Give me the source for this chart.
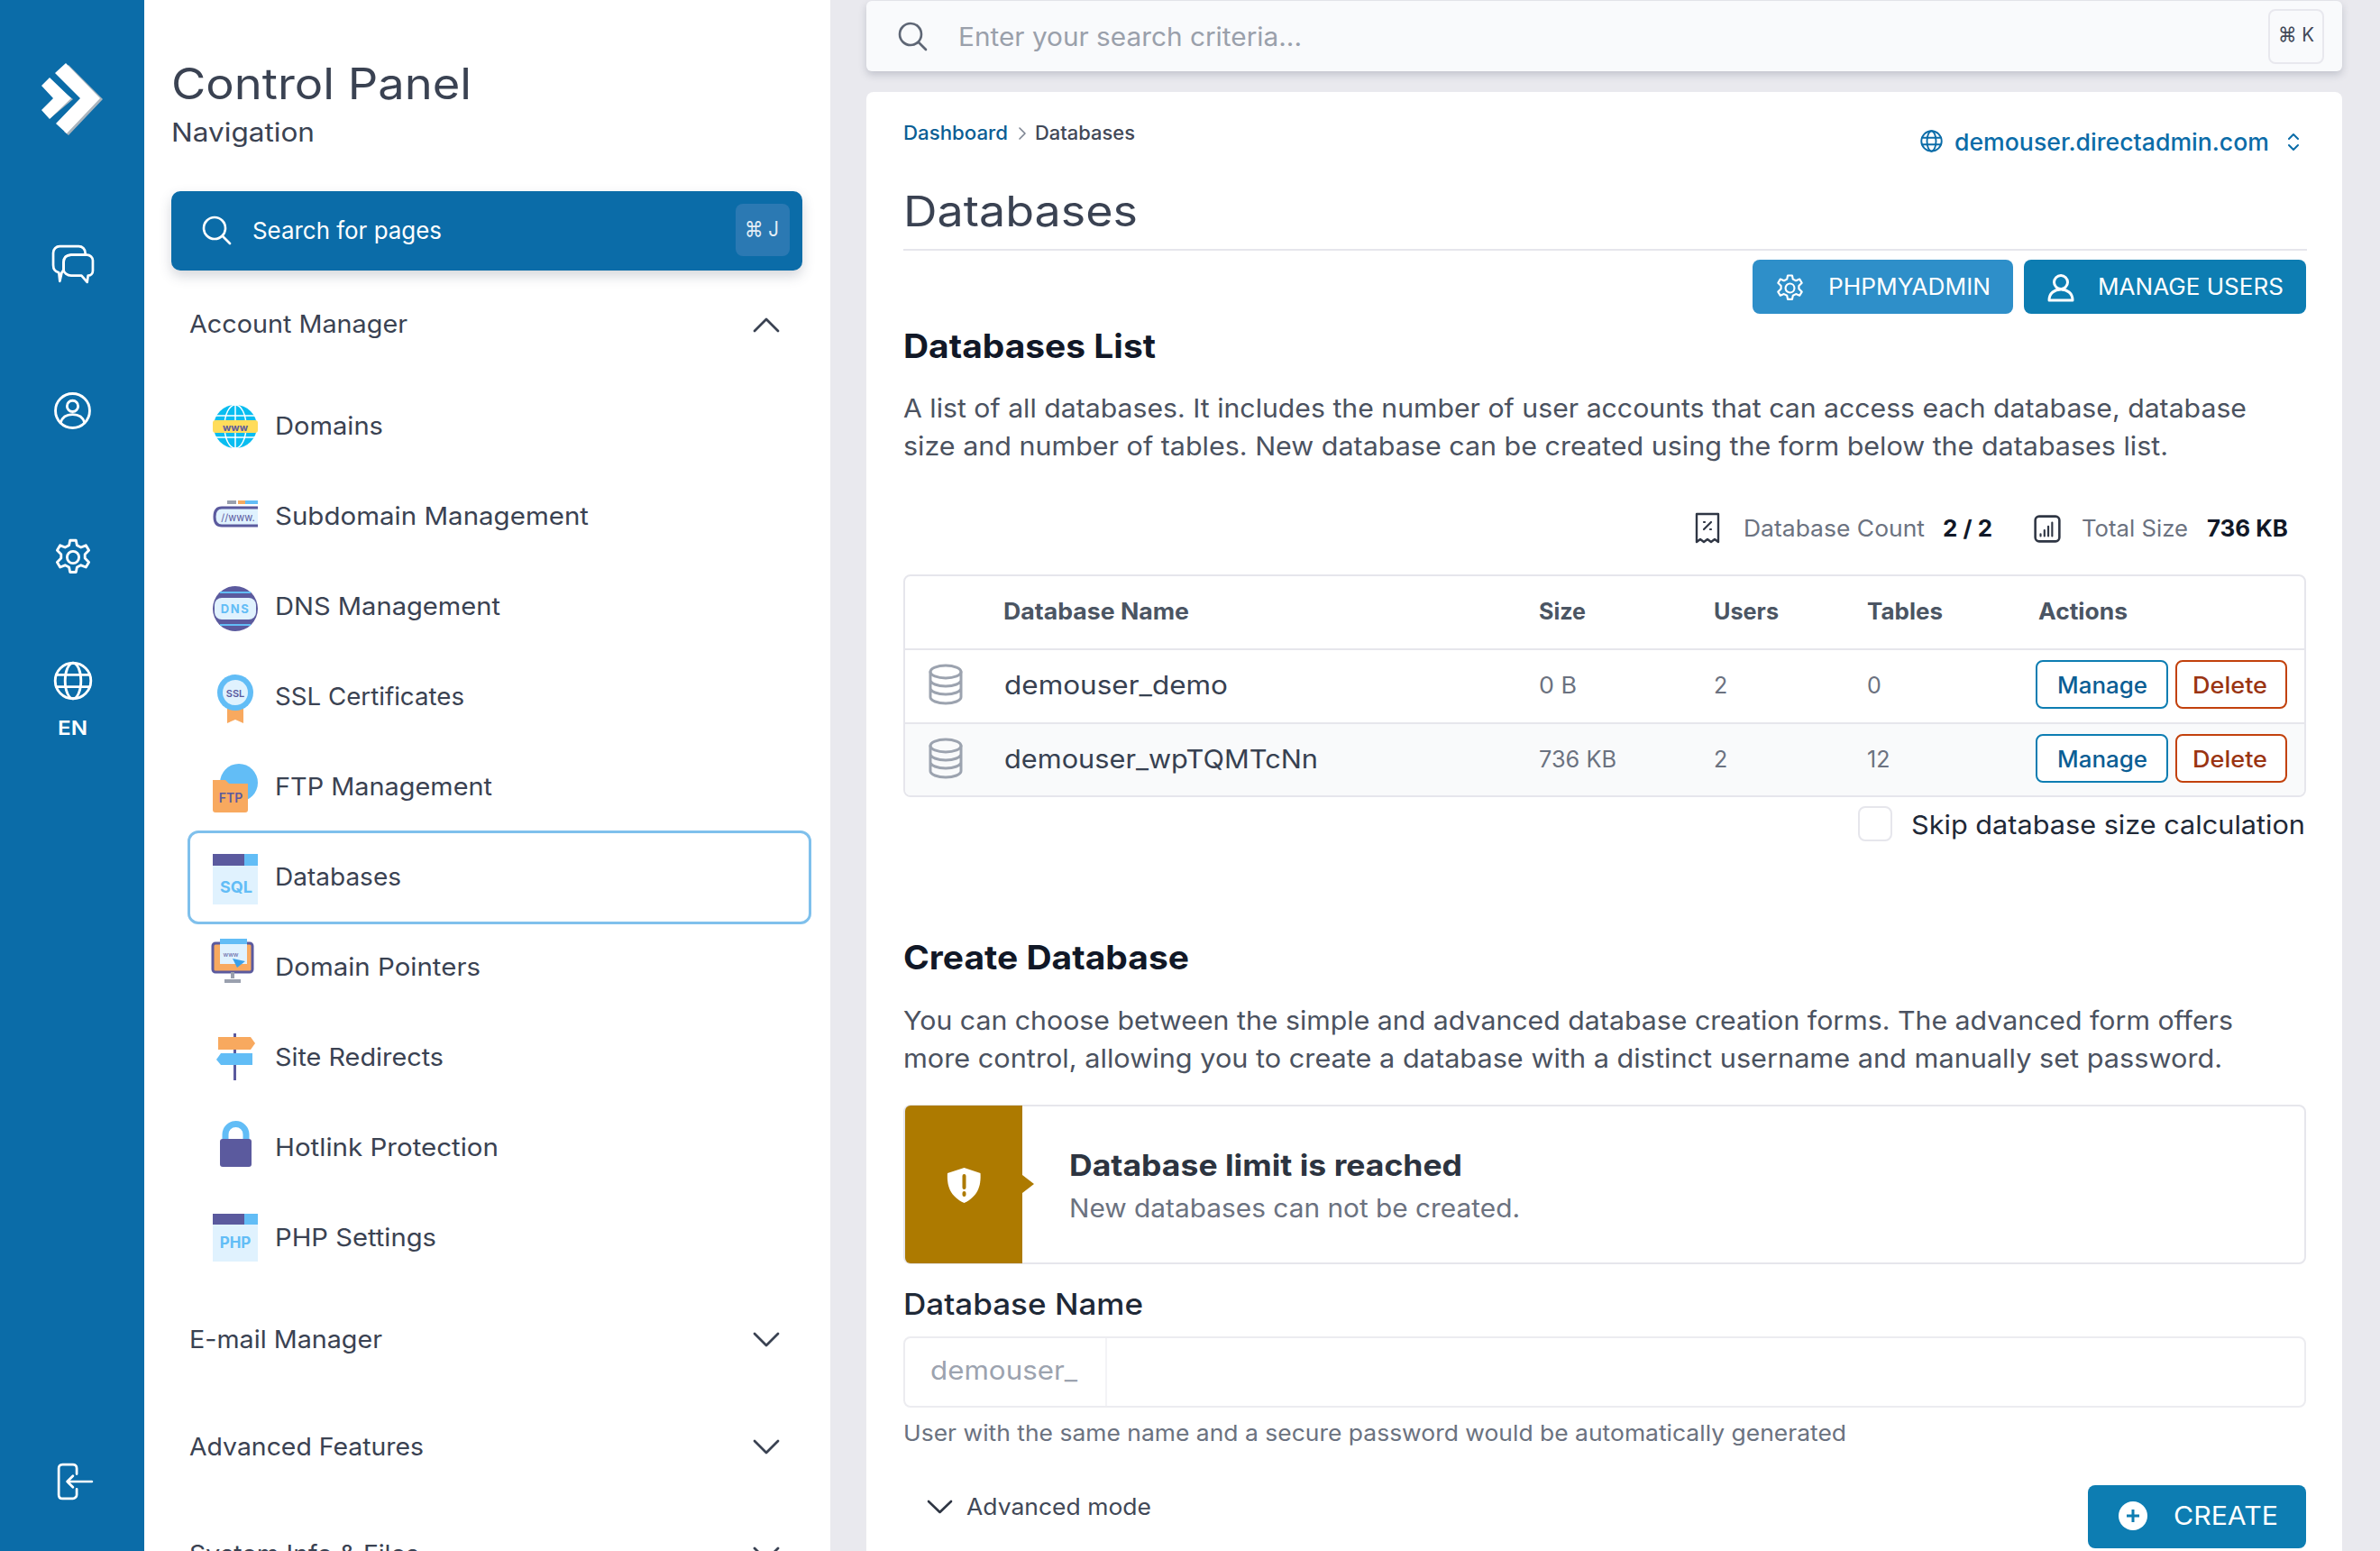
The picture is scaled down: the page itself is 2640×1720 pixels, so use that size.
<!DOCTYPE html>
<html>
<head>
<meta charset="utf-8">
<title>Databases</title>
<script src="https://cdn.jsdelivr.net/npm/chart.js@4"></script>
<style>
  html, body { margin: 0; padding: 0; background: #e9e9ee; }
  #page { position: relative; width: 2640px; height: 1720px; overflow: hidden; background: #e9e9ee; font-family: Inter, "Noto Sans", sans-serif; }
  .box { position: absolute; box-sizing: border-box; }
  .t { position: absolute; white-space: pre; line-height: 1; transform: translateY(-50%); transform-origin: left center; }
  svg { position: absolute; overflow: visible; }
</style>
</head>
<body>
<div id="page"></div>
<script>
// values
const navItems = ['Domains', 'Subdomain Management', 'DNS Management', 'SSL Certificates', 'FTP Management', 'Databases', 'Domain Pointers', 'Site Redirects', 'Hotlink Protection', 'PHP Settings'];
const navWidths = [120, 348, 250, 210, 241, 140, 228, 187, 248, 179];
const navGroups = ['E-mail Manager', 'Advanced Features', 'System Info & Files'];
const tableHeaders = ['Database Name', 'Size', 'Users', 'Tables', 'Actions'];
const dbNames = ['demouser_demo', 'demouser_wpTQMTcNn'];
const dbSizes = ['0 B', '736 KB'];
const dbUsers = [2, 2];
const dbTables = [0, 12];

const page = document.getElementById('page');
const BLUE = '#0b6ca8', DARK = '#3a4252', BODY = '#4b5260', GREY = '#6b7280', LINE = '#e6e6ec';

function box(x, y, w, h, css) {
  const d = document.createElement('div');
  d.className = 'box';
  d.style.cssText = `left:${x}px;top:${y}px;width:${w}px;height:${h}px;${css || ''}`;
  page.appendChild(d);
  return d;
}

// text placed by left edge and vertical centre, stretched to the measured width
// (the original face is wider than anything installed)
function text(str, x, cy, size, color, width, weight) {
  const s = document.createElement('span');
  s.className = 't';
  s.textContent = str;
  s.style.cssText = `left:${x}px;top:${cy}px;font-size:${size}px;color:${color};font-weight:${weight || 400};`;
  page.appendChild(s);
  if (width) {
    const k = width / s.getBoundingClientRect().width;
    s.style.transform = `translateY(-50%) scaleX(${k.toFixed(4)})`;
  }
  return s;
}

function svg(x, y, w, h, vb, inner) {
  page.insertAdjacentHTML('beforeend', `<svg style="left:${x}px;top:${y}px" width="${w}" height="${h}" viewBox="${vb}">${inner}</svg>`);
}
const stroke = (c, w) => `fill="none" stroke="${c}" stroke-width="${w}" stroke-linecap="round" stroke-linejoin="round"`;

const searchIcon = c => `<circle cx="14" cy="14" r="12" ${stroke(c, 2.6)}/><path d="M23 23l8 8" ${stroke(c, 2.6)}/>`;
const gearPath = c => `<circle cx="20" cy="20" r="6" ${stroke(c, 2.6)}/><path d="M17 3h6l1 5 4 2 5-2 3 5-4 4v4l4 4-3 5-5-2-4 2-1 5h-6l-1-5-4-2-5 2-3-5 4-4v-4l-4-4 3-5 5 2 4-2z" ${stroke(c, 2.6)}/>`;
const globePath = (c, w) => `<circle cx="20" cy="20" r="18" ${stroke(c, w)}/><ellipse cx="20" cy="20" rx="8" ry="18" ${stroke(c, w)}/><path d="M3 14h34M3 26h34" ${stroke(c, w)}/>`;
const chevDown = (x, cy, c) => svg(x, cy - 8, 28, 16, '0 0 28 16', `<path d="M1 1l13 13L27 1" ${stroke(c, 2.8)}/>`);
const dbIcon = (x, y) => svg(x, y, 38, 44, '0 0 38 44', `<ellipse cx="19" cy="8" rx="17" ry="7" ${stroke('#9ca3af', 3)}/><path d="M2 8v28c0 4 8 7 17 7s17-3 17-7V8M2 17c0 4 8 7 17 7s17-3 17-7M2 26c0 4 8 7 17 7s17-3 17-7" ${stroke('#9ca3af', 3)}/>`);

// --- left rail ---
box(0, 0, 160, 1720, `background:${BLUE}`);
svg(0, 0, 160, 160, '0 0 160 160', `<path d="M76 72l38 38-38 40-5-4 33-36-32-34zM56 91l25 19-25 21-3-4 20-17-20-16z" fill="#a9b4bd"/><path d="M73 70l38 39-37 39-12-11 27-28-28-28zM55 86l24 23-24 23-9-10 13-13-13-14z" fill="#fff"/>`);
svg(58, 272, 46, 42, '0 0 44 40', `<path d="M8 1h20c4 0 7 3 7 7v2H20c-5 0-8 3-8 8v8l-2 3-2 9-1-9c-4-1-6-4-6-8V8c0-4 3-7 7-7z" ${stroke('#fff', 2.6)}/><path d="M20 10h17c3 0 6 3 6 6v11c0 3-2 5-5 5l-1 7-6-7H20c-4 0-8-3-8-6V18c0-5 3-8 8-8z" ${stroke('#fff', 2.6)}/>`);
svg(60, 435, 41, 41, '0 0 40 40', `<circle cx="20" cy="20" r="18.5" ${stroke('#fff', 2.8)}/><circle cx="20" cy="15" r="6" ${stroke('#fff', 2.8)}/><path d="M7 33c2-7 7-9 13-9s11 2 13 9" ${stroke('#fff', 2.8)}/>`);
svg(59, 596, 44, 44, '0 0 40 40', gearPath('#fff'));
svg(59, 733, 44, 44, '0 0 40 40', globePath('#fff', 2.6));
text('EN', 64, 807, 22, '#fff', 33, 600);
svg(62, 1622, 42, 42, '0 0 40 40', `<path d="M22 12V6c0-3-2-4-4-4H7C4 2 3 4 3 6v28c0 3 2 4 4 4h11c2 0 4-2 4-4v-6" ${stroke('#fff', 2.6)}/><path d="M12 20h26M12 20l6-6M12 20l6 6" ${stroke('#fff', 2.6)}/>`);

// --- navigation panel ---
box(160, 0, 761, 1720, 'background:#fff');
text('Control Panel', 190, 93, 48, DARK, 333);
text('Navigation', 190, 147, 28, DARK, 159);
box(190, 212, 700, 88, `background:${BLUE};border-radius:10px;box-shadow:0 6px 14px rgba(60,70,90,.22)`);
svg(224, 239, 33, 33, '0 0 33 33', searchIcon('#fff'));
text('Search for pages', 280, 256, 26, '#fff', 210);
box(816, 226, 60, 58, 'background:#2b79b3;border-radius:8px');
text('⌘ J', 826, 254, 23, '#e4eef6', 38);
text('Account Manager', 210, 359, 27, DARK, 242);
svg(836, 352, 28, 16, '0 0 28 16', `<path d="M1 15L14 2l13 13" ${stroke(DARK, 2.8)}/>`);

box(208, 921, 692, 104, 'border:3px solid #7fc0ec;border-radius:12px;background:#fff');
navItems.forEach((name, i) => {
  text(name, 305, 472.5 + i * 100, 27.5, DARK, navWidths[i]);
});

// nav icons, same 50px slot
const Y = i => 446.5 + i * 100;
svg(236, Y(0), 50, 52, '0 0 50 52', `<circle cx="25" cy="26" r="24" fill="#09bdf0"/><path d="M25 2v48M3 14h44M3 38h44" stroke="#fff" stroke-width="1.5"/><ellipse cx="25" cy="26" rx="12" ry="24" fill="none" stroke="#fff" stroke-width="1.5"/><rect x="0" y="19" width="50" height="14" rx="3" fill="#ffdc5b"/><text x="25" y="30.5" font-size="11" font-weight="700" text-anchor="middle" fill="#5b5a9e">www</text>`);
svg(236, Y(1) + 8, 50, 30, '0 0 50 30', `<rect x="16" y="0" width="10" height="4" fill="#9aa0ae"/><rect x="28" y="0" width="22" height="4" fill="#62bdf6"/><rect x="28" y="0" width="8" height="4" fill="#f5a95f"/><path d="M50 8H10C4 8 2 12 2 18s2 10 8 10h40" fill="#e0f2fe" stroke="#5b5a9e" stroke-width="3"/><text x="28" y="23" font-size="11" text-anchor="middle" fill="#5b5a9e">//www.</text>`);
svg(236, Y(2) + 1, 50, 54, '0 0 50 54', `<circle cx="25" cy="27" r="25" fill="#5b5a9e"/><rect x="2" y="15" width="46" height="24" rx="8" fill="#e0f2fe"/><text x="25" y="32" font-size="13" font-weight="700" text-anchor="middle" letter-spacing="1.5" fill="#62bdf6">DNS</text><path d="M8 9h34M8 45h34" stroke="#62bdf6" stroke-width="2"/>`);
svg(241, Y(3) + 1, 40, 54, '0 0 40 54', `<path d="M11 36v18l9-4 9 4V36z" fill="#f8a95f"/><circle cx="20" cy="20" r="20" fill="#62bdf6"/><circle cx="20" cy="20" r="14" fill="#e0f2fe"/><text x="20" y="25" font-size="11" font-weight="600" text-anchor="middle" fill="#5b5a9e">SSL</text>`);
svg(236, Y(4) - 1, 50, 56, '0 0 50 56', `<circle cx="29" cy="22" r="21" fill="#62bdf6"/><path d="M0 19h14l4 4h21v29c0 2-1 3-3 3H3c-2 0-3-1-3-3z" fill="#f8a95f"/><text x="20" y="44" font-size="14" font-weight="600" text-anchor="middle" fill="#5b5a9e">FTP</text>`);
svg(236, Y(5), 50, 56, '0 0 50 56', `<rect width="50" height="56" fill="#e0f2fe"/><rect width="35" height="13" fill="#5b5a9e"/><rect x="35" width="15" height="13" fill="#62bdf6"/><text x="26" y="43" font-size="18" font-weight="700" text-anchor="middle" fill="#62bdf6">SQL</text>`);
svg(236, Y(6) - 6, 50, 48, '0 0 50 48', `<rect x="0" y="5" width="44" height="32" rx="3" fill="#f8a95f" stroke="#5b5a9e" stroke-width="3"/><rect x="8" y="0" width="30" height="28" fill="#e0f2fe"/><rect x="8" y="0" width="30" height="6" fill="#62bdf6"/><path d="M22 37v7M13 47h18" stroke="#9aa0ae" stroke-width="4"/><text x="20" y="20" font-size="7" text-anchor="middle" fill="#5b5a9e">www</text><path d="M22 22l14 3-9 7z" fill="#3aa0e8"/>`);
svg(238, Y(7) - 1, 46, 52, '0 0 46 52', `<rect x="21" y="0" width="3" height="52" fill="#5b5a9e"/><path d="M4 4h36l5 7-5 7H4z" fill="#f8a95f"/><path d="M42 22H7l-5 7 5 6h35z" fill="#62bdf6"/>`);
svg(244, Y(8) - 5, 35, 52, '0 0 35 52', `<path d="M6 24V16a11.500 11.500 0 0 1 23 0v8" fill="none" stroke="#62bdf6" stroke-width="7"/><rect y="21" width="35" height="31" rx="3" fill="#5b5a9e"/>`);
svg(236, Y(9) - 1, 50, 53, '0 0 50 53', `<rect width="50" height="53" fill="#e0f2fe"/><rect width="35" height="12" fill="#5b5a9e"/><rect x="35" width="15" height="12" fill="#62bdf6"/><text x="25" y="38" font-size="17" font-weight="700" text-anchor="middle" fill="#62bdf6">PHP</text>`);

[214, 260, 255].forEach((w, i) => {
  const cy = [1485.5, 1605, 1724][i];
  text(navGroups[i], 210, cy, 27.5, DARK, w);
  chevDown(836, cy, DARK);
});

// --- top search card ---
box(961, 1, 1637, 78, 'background:#f9fafc;border-radius:6px;box-shadow:0 4px 8px rgba(60,70,90,.22)');
svg(996, 24, 33, 33, '0 0 33 33', searchIcon('#5e6675'));
text('Enter your search criteria...', 1063, 41, 28, '#9aa0ab', 381);
box(2516, 10, 62, 61, 'border:2px solid #e8e8ee;border-radius:8px');
text('⌘ K', 2527, 38, 22, '#414857', 40);

// --- main card ---
box(961, 102, 1637, 1640, 'background:#fff;border-radius:8px');
text('Dashboard', 1002, 147, 21, '#0b5e94', 116, 500);
svg(1130, 141, 9, 14, '0 0 9 14', `<path d="M1 1l6 6-6 6" ${stroke('#7b8391', 1.6)}/>`);
text('Databases', 1148, 147, 21, '#414857', 111, 500);
svg(2130, 144, 25, 25, '0 0 40 40', globePath(BLUE, 3));
text('demouser.directadmin.com', 2168, 158, 26, BLUE, 349, 500);
svg(2537, 148, 14, 19, '0 0 14 19', `<path d="M2 6l5-5 5 5M2 13l5 5 5-5" ${stroke(BLUE, 2)}/>`);

text('Databases', 1002, 233, 47, DARK, 260);
box(1002, 276, 1557, 2, `background:${LINE}`);

box(1944, 288, 289, 60, 'background:#2e8fc9;border-radius:8px');
svg(1969, 303, 33, 33, '0 0 40 40', gearPath('#fff'));
text('PHPMYADMIN', 2028, 318, 25, '#fff', 180);
box(2245, 288, 313, 60, 'background:#0d7db2;border-radius:8px');
svg(2271, 304, 30, 31, '0 0 30 31', `<circle cx="15" cy="9" r="7.500" ${stroke('#fff', 3)}/><path d="M2 29c0-8 6-12 13-12s13 4 13 12z" ${stroke('#fff', 3)}/>`);
text('MANAGE USERS', 2327, 318, 25, '#fff', 206);

text('Databases List', 1002, 383, 37, '#111827', 280, 700);
text('A list of all databases. It includes the number of user accounts that can access each database, database', 1002, 452, 29, BODY, 1490);
text('size and number of tables. New database can be created using the form below the databases list.', 1002, 494, 29, BODY, 1403);

// stats row
svg(1880, 568, 28, 35, '0 0 28 35', `<path d="M2 2h24v31l-4-3-4 3-4-3-4 3-4-3-4 3z" ${stroke('#2f3644', 2.4)}/><path d="M10 19l8-8M10 11h1M17 19h1" ${stroke('#2f3644', 2.2)}/>`);
text('Database Count', 1934, 586, 25, GREY, 201);
text('2 / 2', 2155, 586, 25, '#111827', 55, 700);
svg(2256, 571, 30, 31, '0 0 28 29', `<rect x="1.500" y="1.500" width="25" height="26" rx="4" ${stroke('#2f3644', 2.4)}/><path d="M7 22v-2M11 22v-6M15 22v-10M19 22V8" ${stroke('#2f3644', 2)}/>`);
text('Total Size', 2309, 586, 25, GREY, 118);
text('736 KB', 2448, 586, 25, '#111827', 90, 700);

// database table
box(1002, 637, 1556, 247, `border:2px solid ${LINE};border-radius:8px`);
const colX = [1113, 1707, 1901, 2071, 2261];
const headWidths = [206, 52, 72, 84, 99];
tableHeaders.forEach((h, i) => text(h, colX[i], 678, 25, '#4b5563', headWidths[i], 700));
const rowY = [759, 841];
box(1004, 719, 1552, 2, `background:${LINE}`);
box(1004, 801, 1552, 2, `background:${LINE}`);
box(1004, 803, 1552, 79, 'background:#f9fafb;border-radius:0 0 6px 6px');
dbNames.forEach((name, i) => {
  const cy = rowY[i];
  dbIcon(1030, cy - 22);
  text(name, colX[0] + 1, cy, 29, '#374151', i === 0 ? 248 : 348);
  text(dbSizes[i], colX[1], cy + 1, 25, GREY, i === 0 ? 42 : 86);
  text(String(dbUsers[i]), colX[2], cy + 1, 25, GREY);
  text(String(dbTables[i]), colX[3], cy + 1, 25, GREY);
  box(2258, cy - 27, 147, 54, 'border:2.5px solid #0d7db2;border-radius:8px;background:#fff');
  text('Manage', 2282, cy + 1, 25, '#0b5e94', 100, 500);
  box(2413, cy - 27, 124, 54, 'border:2.5px solid #c2410c;border-radius:8px;background:#fff');
  text('Delete', 2432, cy + 1, 25, '#9a3412', 83, 500);
});
box(2061, 894, 38, 39, `border:2px solid ${LINE};border-radius:8px`);
text('Skip database size calculation', 2120, 914, 29, '#1f2937', 437);

// create form
text('Create Database', 1002, 1061, 37, '#111827', 317, 700);
text('You can choose between the simple and advanced database creation forms. The advanced form offers', 1002, 1131, 29, BODY, 1475);
text('more control, allowing you to create a database with a distinct username and manually set password.', 1002, 1173, 29, BODY, 1463);

box(1002, 1225, 1556, 177, `border:2px solid ${LINE};border-radius:8px`);
box(1004, 1226, 130, 175, 'background:#ad7a00;border-radius:6px 0 0 6px');
svg(1134, 1303, 13, 20, '0 0 13 20', '<path d="M0 0l13 10L0 20z" fill="#ad7a00"/>');
svg(1049, 1294, 41, 41, '0 0 41 41', `<path d="M20.500 1l18 6c1 14-3 26-18 33C5 33 1 21 2 7z" fill="#fff"/><path d="M20.500 10v13M20.500 29v2" stroke="#ad7a00" stroke-width="4" stroke-linecap="round"/>`);
text('Database limit is reached', 1186, 1292, 33, '#2d3440', 436, 700);
text('New databases can not be created.', 1186, 1340, 28, GREY, 500);

text('Database Name', 1002, 1446, 33, '#1f2937', 266, 500);
box(1002, 1482, 1556, 79, 'border:2px solid #ececf0;border-radius:8px');
box(1226, 1484, 2, 75, 'background:#f3f3f6');
text('demouser_', 1032, 1519, 29, '#9ca3af', 163);
text('User with the same name and a secure password would be automatically generated', 1002, 1589, 24.5, GREY, 1046);

svg(1029, 1664, 27, 14, '0 0 27 14', `<path d="M1 1l12.500 12L26 1" ${stroke('#2f3644', 2.6)}/>`);
text('Advanced mode', 1072, 1671, 25, '#414857', 205);
box(2316, 1647, 242, 70, 'background:#0d7db2;border-radius:8px');
svg(2350, 1665, 32, 32, '0 0 32 32', `<circle cx="16" cy="16" r="16" fill="#fff"/><path d="M16 9v14M9 16h14" stroke="#0d7db2" stroke-width="3"/>`);
text('CREATE', 2411, 1681, 28, '#fff', 116);
</script>
</body>
</html>
